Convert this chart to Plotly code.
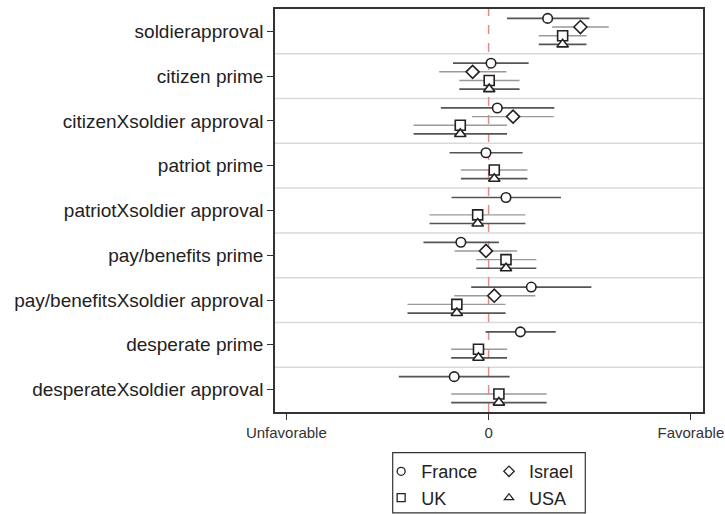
import plotly.graph_objects as go

categories = ["soldierapproval", "citizen prime", "citizenXsoldier approval",
              "patriot prime", "patriotXsoldier approval", "pay/benefits prime",
              "pay/benefitsXsoldier approval", "desperate prime",
              "desperateXsoldier approval"]

france_est = [0.292, 0.012, 0.043, -0.013, 0.086, -0.137, 0.211, 0.157, -0.170]
france_lo = [0.091, -0.176, -0.236, -0.193, -0.183, -0.322, -0.086, -0.015, -0.444]
france_hi = [0.498, 0.198, 0.325, 0.168, 0.358, 0.051, 0.508, 0.332, 0.104]

israel_est = [0.454, -0.079, 0.121, None, None, -0.013, 0.028, None, None]
israel_lo = [0.314, -0.244, -0.082, None, None, -0.168, -0.170, None, None]
israel_hi = [0.594, 0.088, 0.322, None, None, 0.141, 0.231, None, None]

uk_est = [0.366, 0.003, -0.140, 0.028, -0.054, 0.086, -0.157, -0.050, 0.051]
uk_lo = [0.248, -0.145, -0.371, -0.137, -0.292, -0.061, -0.401, -0.185, -0.185]
uk_hi = [0.484, 0.153, 0.091, 0.192, 0.182, 0.236, 0.084, 0.091, 0.287]

usa_est = [0.366, 0.003, -0.140, 0.028, -0.054, 0.086, -0.157, -0.050, 0.051]
usa_lo = [0.248, -0.145, -0.371, -0.137, -0.292, -0.061, -0.401, -0.185, -0.185]
usa_hi = [0.484, 0.153, 0.091, 0.192, 0.182, 0.236, 0.084, 0.091, 0.287]

x_tickvals = [-1, 0, 1]
x_ticktext = ["Unfavorable", "0", "Favorable"]

# name, est, lo, hi, offset, symbol, size, bar colour, bar width, legend
series = [
    ("France", france_est, france_lo, france_hi, -0.29, "circle", 9.5, "#555555", 1.7, "legend"),
    ("Israel", israel_est, israel_lo, israel_hi, -0.097, "diamond", 10, "#999999", 1.4, "legend2"),
    ("UK", uk_est, uk_lo, uk_hi, 0.097, "square", 10, "#999999", 1.4, "legend"),
    ("USA", usa_est, usa_lo, usa_hi, 0.29, "triangle-up", 10, "#555555", 1.7, "legend2"),
]

fig = go.Figure()
for name, est, lo, hi, off, sym, size, lcol, lw, leg in series:
    xs, ys, ep, em = [], [], [], []
    for i, (e, l, h) in enumerate(zip(est, lo, hi)):
        if e is None:
            continue
        xs.append(e)
        ys.append(i + off)
        ep.append(h - e)
        em.append(e - l)
    fig.add_trace(go.Scatter(
        x=xs, y=ys, mode="markers", name=name, showlegend=False,
        marker=dict(symbol=sym, size=size, color="white",
                    line=dict(width=1.6, color="#222222")),
        error_x=dict(type="data", symmetric=False, array=ep, arrayminus=em,
                     width=0, thickness=lw, color=lcol),
    ))
    # legend entry (small symbol as in the reference key)
    fig.add_trace(go.Scatter(
        x=[None], y=[None], mode="markers", name=name, legend=leg,
        marker=dict(symbol=sym, size=8, color="white",
                    line=dict(width=1.3, color="#222222")),
    ))

shapes = []
for k in range(len(categories) - 1):
    shapes.append(dict(type="line", xref="paper", x0=0, x1=1, yref="y",
                       y0=k + 0.5, y1=k + 0.5, line=dict(color="#d9d9d9", width=1.5),
                       layer="below"))
shapes.append(dict(type="line", xref="x", x0=0, x1=0, yref="paper", y0=0, y1=1,
                   line=dict(color="#e08c8c", width=1.5, dash="dash"), layer="below"))
# legend frame
shapes.append(dict(type="rect", xref="paper", yref="paper",
                   x0=0.275, x1=0.725, y0=-0.2505, y1=-0.101,
                   line=dict(color="#333333", width=1.2), fillcolor="rgba(0,0,0,0)"))

leg_common = dict(orientation="v", yanchor="top", xanchor="left",
                  bgcolor="rgba(0,0,0,0)", borderwidth=0,
                  font=dict(size=18, color="#222222"), itemwidth=30, tracegroupgap=0)

fig.update_layout(
    width=725, height=514,
    margin=dict(l=275, r=22, t=9, b=102, autoexpand=False),
    plot_bgcolor="white", paper_bgcolor="white",
    font=dict(family="Liberation Sans, Arial, sans-serif", color="#222222"),
    shapes=shapes,
    showlegend=True,
    legend=dict(x=0.248, y=-0.102, **leg_common),
    legend2=dict(x=0.50, y=-0.102, **leg_common),
    xaxis=dict(range=[-1.056, 1.06], tickvals=x_tickvals, ticktext=x_ticktext,
               showgrid=False, zeroline=False, ticks="outside", ticklen=6,
               tickcolor="#333333", tickfont=dict(size=15, color="#333333"),
               ticklabelstandoff=0,
               showline=True, linecolor="#333333", linewidth=1.5, mirror=True,
               automargin=False),
    yaxis=dict(range=[8.5, -0.5], tickvals=list(range(len(categories))),
               ticktext=categories, showgrid=False, zeroline=False,
               ticks="outside", ticklen=6, tickcolor="#333333",
               tickfont=dict(size=19, color="#222222"),
               showline=True, linecolor="#333333", linewidth=1.5, mirror=True,
               automargin=False),
)

fig.write_html("out.html", config={"displayModeBar": False},
               post_script="document.body.style.margin='0px';"
                           "document.body.style.overflow='hidden';")
